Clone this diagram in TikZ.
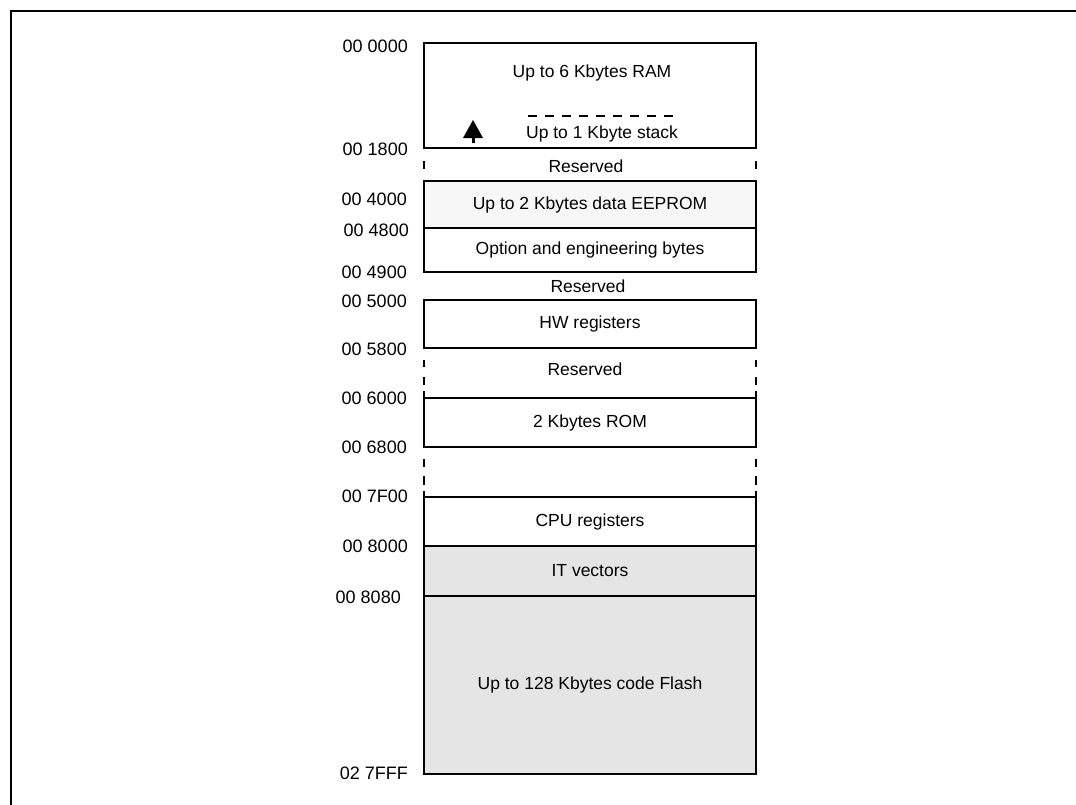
\documentclass[tikz,border=0pt]{standalone}
\usepackage{fontspec}
\setmainfont{Liberation Sans}
\begin{document}
\begin{tikzpicture}[x=1pt,y=-1pt,
  every node/.style={font=\fontsize{17.5}{21}\selectfont, inner sep=0pt},
  mem/.style={draw, line width=2.4pt, minimum width=332pt, inner sep=0pt},
  addr/.style={anchor=east, font=\fontsize{18}{21}\selectfont},
  sidedash/.style={line width=2.4pt},
  frame/.style={line width=2.6pt}]
\useasboundingbox (0,0) rectangle (1076,804);
\clip (0,0) rectangle (1076,804);
\draw[frame] (11,830) -- (11,11) -- (1100,11);

% boxes
\node[mem, minimum height=105pt] (ram) at (590,95.5) {};
\node (ramt) at (592,73) {Up to 6 Kbytes RAM};
\node (stack) at (602,134) {Up to 1 Kbyte stack};
\coordinate (sl) at (528,116);
\coordinate (sr) at (676,116);
\draw[line width=2.5pt, dash pattern=on 9pt off 8pt] (sl) -- (sr);
\coordinate (ab) at (473,143);
\coordinate (at) at (473,120);
\draw[line width=3pt] (ab) -- (473,134);
\fill (463,138) -- (483,138) -- (at) -- cycle;

\node (res1) at (586,166) {Reserved};
\node[mem, fill=gray!6, minimum height=47pt] (eep) at (590,204.5) {Up to 2 Kbytes data EEPROM};
\node[mem, minimum height=44pt] (opt) at (590,250) {Option and engineering bytes};
\node (res2) at (588,286) {Reserved};
\node[mem, minimum height=48pt] (hw) at (590,324) {HW registers};
\node (res3) at (585,369) {Reserved};
\node[mem, minimum height=49pt] (rom) at (590,422.5) {2 Kbytes ROM};
\node[mem, minimum height=49pt] (cpu) at (590,521.5) {CPU registers};
\node[mem, fill=gray!20, minimum height=50pt] (itv) at (590,571) {IT vectors};
\node[mem, fill=gray!20, minimum height=178pt] (flash) at (590,685) {Up to 128 Kbytes code Flash};

% dashed sides of reserved areas
\foreach \x in {424,756}{
  \draw[sidedash] (\x,161) -- (\x,169);
  \draw[sidedash] (\x,360) -- (\x,367);
  \draw[sidedash] (\x,377) -- (\x,385);
  \draw[sidedash] (\x,391) -- (\x,398);
  \draw[sidedash] (\x,459) -- (\x,467);
  \draw[sidedash] (\x,476) -- (\x,485);
  \draw[sidedash] (\x,491) -- (\x,497);
}

% address labels
\node[addr] (a0)  at (408,46)  {00 0000};
\node[addr] (a1)  at (408,149) {00 1800};
\node[addr] (a2)  at (407,199) {00 4000};
\node[addr] (a3)  at (409,230) {00 4800};
\node[addr] (a4)  at (407,272) {00 4900};
\node[addr] (a5)  at (407,301) {00 5000};
\node[addr] (a6)  at (407,349) {00 5800};
\node[addr] (a7)  at (407,398) {00 6000};
\node[addr] (a8)  at (407,447) {00 6800};
\node[addr] (a9)  at (408,496) {00 7F00};
\node[addr] (a10) at (408,546) {00 8000};
\node[addr] (a11) at (401,597) {00 8080};
\node[addr] (a12) at (408,773) {02 7FFF};
\end{tikzpicture}
\end{document}
